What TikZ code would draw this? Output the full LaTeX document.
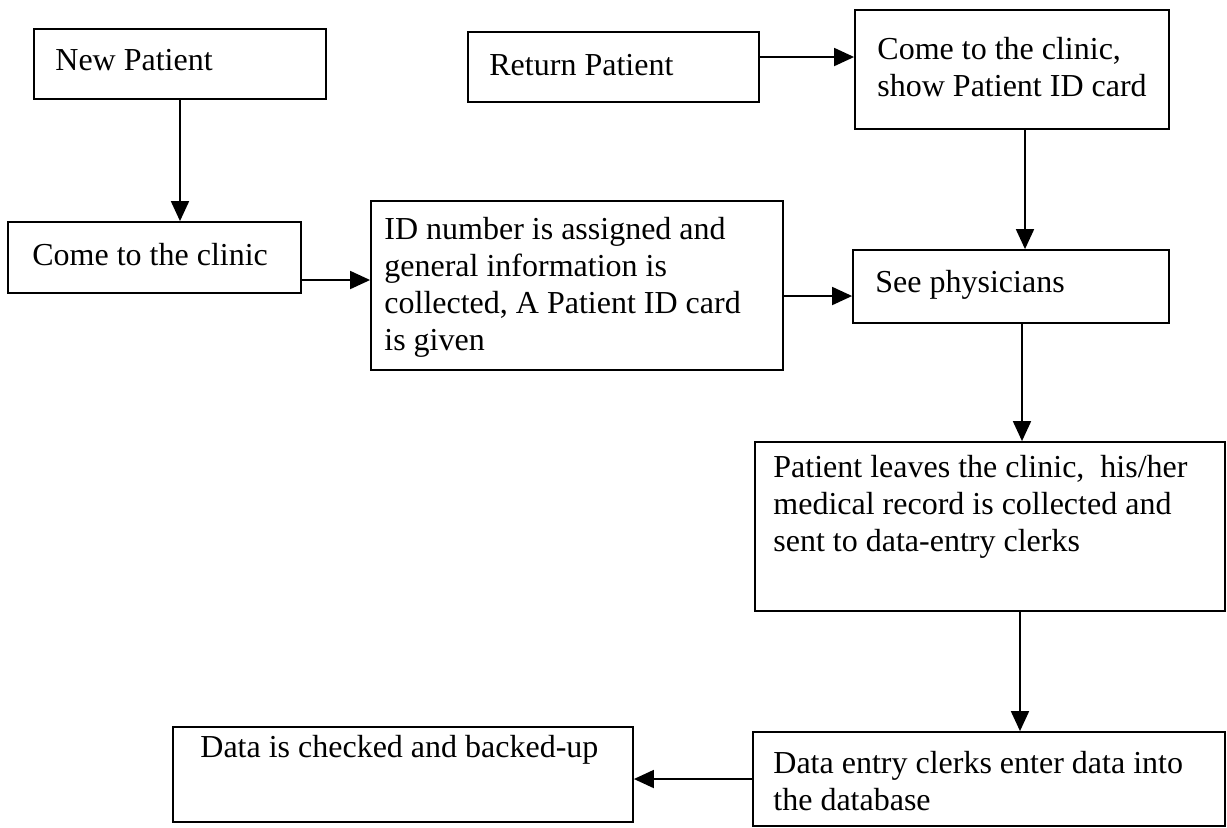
\documentclass[tikz,border=0pt]{standalone}
\usepackage{fontspec}
\setmainfont{Liberation Serif}
\usetikzlibrary{arrows.meta,fit}
\begin{document}
\begin{tikzpicture}[x=0.5pt,y=-0.5pt,
  box/.style={draw=black, line width=0.9pt, inner sep=0pt},
  % the first line carries a strut, so its top sits 0.7 baselineskip (26 units) above its baseline
  lbl/.style={anchor=north west, inner sep=0pt, align=left,
              font=\fontsize{16pt}{18.5pt}\selectfont},
  arr/.style={line width=0.9pt, -{Triangle[length=10pt,width=9pt]}}]
  \useasboundingbox (0,0) rectangle (1227,827);
  \fill[white] (0,0) rectangle (1227,827);

  % boxes
  \node[box, fit={(34,29) (326,99)}]    (np) {};
  \node[box, fit={(468,32) (759,102)}]  (rp) {};
  \node[box, fit={(855,10) (1169,129)}] (cs) {};
  \node[box, fit={(8,222) (301,293)}]   (cc) {};
  \node[box, fit={(371,201) (783,370)}] (id) {};
  \node[box, fit={(853,250) (1169,323)}] (sp) {};
  \node[box, fit={(755,442) (1225,611)}] (pl) {};
  \node[box, fit={(173,727) (633,822)}] (dc) {};
  \node[box, fit={(753,732) (1225,826)}] (de) {};

  % texts (placed by first baseline minus 26)
  \node[lbl] (tnp) at (55,44)  {\strut New Patient};
  \node[lbl] (trp) at (489,49) {\strut Return Patient};
  \node[lbl] (tcs) at (877,33) {\strut Come to the clinic,\\show Patient ID card};
  \node[lbl] (tcc) at (32,239) {\strut Come to the clinic};
  \node[lbl] (tid) at (384,213) {\strut ID number is assigned and\\general information is\\collected, A Patient ID card\\is given};
  \node[lbl] (tsp) at (875,266) {\strut See physicians};
  \node[lbl] (tpl) at (773,451) {\strut Patient leaves the clinic,\ \ his/her\\medical record is collected and\\sent to data-entry clerks};
  \node[lbl] (tdc) at (200,731) {\strut Data is checked and backed-up};
  \node[lbl] (tde) at (773,747) {\strut Data entry clerks enter data into\\the database};

  % connector rails
  \coordinate (r1) at (0,57);
  \coordinate (r2) at (1025,0);
  \coordinate (r3) at (0,280);
  \coordinate (r4) at (0,296);
  \coordinate (r5) at (1022,0);
  \coordinate (r6) at (1020,0);
  \coordinate (r7) at (0,779);

  % connectors
  \draw[arr] (np.south) -- (np.south |- cc.north);
  \draw[arr] (rp.east |- r1) -- (cs.west |- r1);
  \draw[arr] (cs.south -| r2) -- (sp.north -| r2);
  \draw[arr] (cc.east |- r3) -- (id.west |- r3);
  \draw[arr] (id.east |- r4) -- (sp.west |- r4);
  \draw[arr] (sp.south -| r5) -- (pl.north -| r5);
  \draw[arr] (pl.south -| r6) -- (de.north -| r6);
  \draw[arr] (de.west |- r7) -- (dc.east |- r7);
\end{tikzpicture}
\end{document}
